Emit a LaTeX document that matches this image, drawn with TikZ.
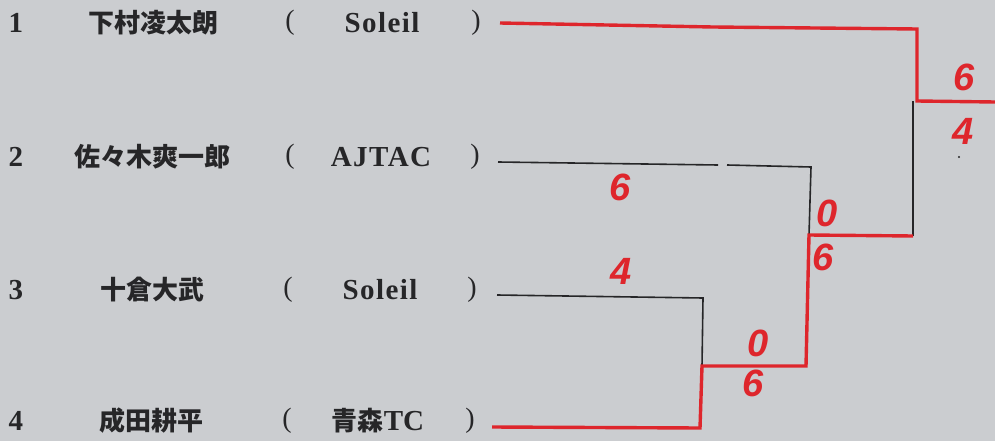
\documentclass[tikz,border=0pt]{standalone}
\usepackage{fontspec}
\setmainfont{Liberation Serif}
\newfontfamily\cjk{Noto Sans CJK JP}
\newfontfamily\hand{Liberation Sans}
\definecolor{paper}{RGB}{203,205,208}
\definecolor{ink}{RGB}{38,38,40}
\definecolor{pen}{RGB}{222,38,44}
\tikzset{
  txt/.style={inner sep=0pt, text=ink, font=\fontsize{29}{32}\selectfont\bfseries},
  pname/.style={txt, font=\cjk\fontsize{26}{30}\selectfont\bfseries},
  club/.style={txt, font=\fontsize{29}{32}\selectfont\bfseries\addfontfeatures{LetterSpace=5}},
  paren/.style={txt, font=\fontsize{28}{30}\selectfont},
  thin/.style={draw=ink, line width=1.6pt},
  redline/.style={draw=pen, line width=3.4pt},
  score/.style={inner sep=0pt, text=pen, font=\hand\itshape\bfseries\fontsize{38}{40}\selectfont}
}
\begin{document}
\begin{tikzpicture}[x=1pt,y=-1pt]
\fill[paper] (0,0) rectangle (995,441);
\useasboundingbox (0,0) rectangle (995,441);
% row 1
\node[txt] (n1) at (16,23) {1};
\node[pname] (p1) at (153,23) {下村凌太朗};
\node[paren] (l1) at (290,23) {(};
\node[club] (c1) at (382,23) {Soleil};
\node[paren] (r1) at (476,23) {)};
% row 2
\node[txt] (n2) at (16,157) {2};
\node[pname] (p2) at (152,157) {佐々木爽一郎};
\node[paren] (l2) at (290,157) {(};
\node[club] (c2) at (381,157) {AJTAC};
\node[paren] (r2) at (475,157) {)};
% row 3
\node[txt] (n3) at (16,290) {3};
\node[pname] (p3) at (152,290) {十倉大武};
\node[paren] (l3) at (288,290) {(};
\node[club] (c3) at (380,290) {Soleil};
\node[paren] (r3) at (472,290) {)};
% row 4
\node[txt] (n4) at (16,421) {4};
\node[pname] (p4) at (151,421) {成田耕平};
\node[paren] (l4) at (287,421) {(};
\node[txt] (c4) at (378,421) {{\cjk\fontsize{26}{30}\selectfont\bfseries 青森}TC};
\node[paren] (r4) at (470,421) {)};
% coordinates
\coordinate (a1) at (500,23);
\coordinate (a1m) at (713,27);
\coordinate (a1e) at (917,29);
\coordinate (f) at (917,101);
\coordinate (fe) at (995,102);
\coordinate (a2) at (498,162);
\coordinate (g1) at (718,165);
\coordinate (g2) at (727,165);
\coordinate (a2e) at (811,167);
\coordinate (s2) at (809,235);
\coordinate (s2e) at (913,236);
\coordinate (t2) at (913,101);
\coordinate (a3) at (497,295);
\coordinate (a3e) at (703,298);
\coordinate (s1) at (702,366);
\coordinate (s1e) at (806,366);
\coordinate (a4) at (492,427);
\coordinate (a4e) at (700,428);
% black lines
\draw[thin] (a2) -- (g1);
\draw[thin] (g2) -- (a2e) -- (s2);
\draw[thin] (a3) -- (a3e) -- (s1);
\draw[thin] (s2e) -- (t2);
% red lines
\draw[redline] (a1) -- (a1m) -- (a1e) -- (f) -- (fe);
\draw[redline] (a4) -- (a4e) -- (s1) -- (s1e) -- (s2) -- (s2e);
% scores
\node[score] (k1) at (620,187) {6};
\node[score] (k2) at (621,271) {4};
\node[score] (k3) at (758,343) {0};
\node[score] (k4) at (753,383) {6};
\node[score] (k5) at (827,213) {0};
\node[score] (k6) at (823,257) {6};
\node[score] (k7) at (964,77) {6};
\node[score] (k8) at (963,131) {4};
\fill[ink] (959,157) circle (1.2);
\end{tikzpicture}
\end{document}
